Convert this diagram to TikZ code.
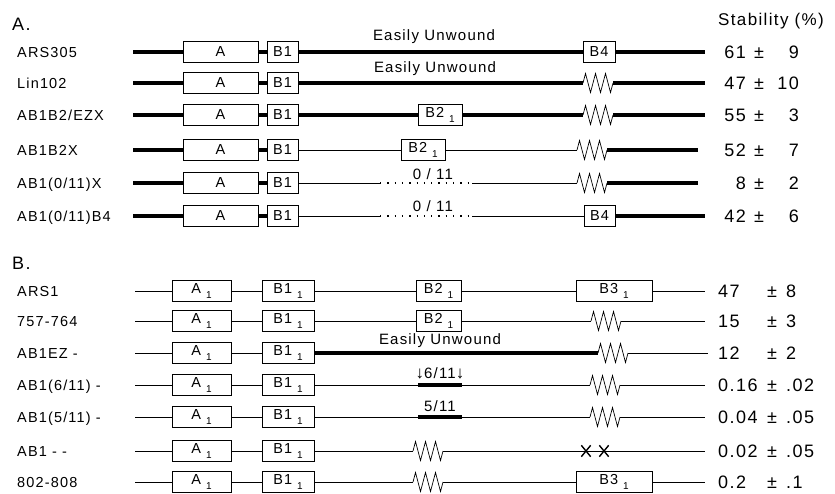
\documentclass[tikz,border=0pt]{standalone}
\usepackage{fontspec}
\setmainfont{Liberation Sans}[LetterSpace=8]
\usepackage{tikz}
\usetikzlibrary{positioning,decorations.pathmorphing,shapes.misc}
\newcommand{\lowidx}[1]{\hspace{5pt}\raisebox{-0.6ex}{\fontsize{10}{10}\selectfont #1}}

\begin{document}
\begin{tikzpicture}[x=1pt, y=-1pt,
		box/.style={draw, line width=0.8pt, minimum height=21pt, inner sep=0pt, font=\fontsize{14.5}{16}\selectfont},
		thk/.style={line width=4pt},
		thn/.style={line width=0.8pt},
		coil/.style={line width=0.7pt, decorate, decoration={zigzag, segment length=10pt, amplitude=9.5pt}},
		dotseg/.style={line width=1.3pt, dash pattern=on 1.3pt off 6pt},
		rowlbl/.style={anchor=west, inner sep=0pt, text height=10pt, text depth=0pt, font=\fontsize{14.5}{16}\selectfont},
		txt/.style={inner sep=0pt, font=\fontsize{15}{17}\selectfont},
		val/.style={inner sep=0pt, text height=12.5pt, text depth=0pt, font=\fontsize{18}{20}\selectfont},
		xmark/.style={draw, cross out, line width=1.4pt, minimum width=8pt, minimum height=10pt, inner sep=0pt},
		sechead/.style={anchor=west, inner sep=0pt, font=\fontsize{18}{20}\selectfont}]
		\useasboundingbox (0,0) rectangle (835,493);

		% part A
		\node[sechead] (secA) at (12,24) {A.};
		\node[val, text depth=4pt, font=\fontsize{17}{20}\selectfont] (stab) at (771,21) {Stability (\%)};

		\node[rowlbl] (l1) at (17,52) {ARS305};
		\node[box, minimum width=75pt] (a1) at (220.5,52) {A};
		\node[box, minimum width=31pt] (b1) at (282.5,52) {B1};
		\node[box, minimum width=32pt] (f1) at (599,52) {B4};
		\coordinate (s1) at (133,52);
		\coordinate (e1) at (705,52);
		\draw[thk] (s1) -- (a1) (a1) -- (b1) (b1) -- (f1) (f1) -- (e1);
		\node[txt] (eu1) at (434,37) {Easily Unwound};

		\node[rowlbl] (l2) at (17,83) {Lin102};
		\node[box, minimum width=75pt] (a2) at (220.5,83) {A};
		\node[box, minimum width=31pt] (b2) at (282.5,83) {B1};
		\coordinate (s2) at (133,83);
		\coordinate (z2a) at (583,83);
		\coordinate (z2b) at (613,83);
		\coordinate (e2) at (705,83);
		\draw[thk] (s2) -- (a2) (a2) -- (b2) (b2) -- (z2a) (z2b) -- (e2);
		\draw[coil] (z2a) -- (z2b);
		\node[txt] (eu2) at (435,69) {Easily Unwound};

		\node[rowlbl] (l3) at (17,115) {AB1B2/EZX};
		\node[box, minimum width=75pt] (a3) at (220.5,115) {A};
		\node[box, minimum width=31pt] (b3) at (282.5,115) {B1};
		\node[box, minimum width=44pt] (c3) at (440,115) {B2\lowidx{1}};
		\coordinate (s3) at (133,115);
		\coordinate (z3a) at (583,115);
		\coordinate (z3b) at (613,115);
		\coordinate (e3) at (705,115);
		\draw[thk] (s3) -- (a3) (a3) -- (b3) (b3) -- (c3) (c3) -- (z3a) (z3b) -- (e3);
		\draw[coil] (z3a) -- (z3b);

		\node[rowlbl] (l4) at (17,150) {AB1B2X};
		\node[box, minimum width=75pt] (a4) at (220.5,150) {A};
		\node[box, minimum width=31pt] (b4) at (282.5,150) {B1};
		\node[box, minimum width=44pt] (c4) at (423,150) {B2\lowidx{1}};
		\coordinate (s4) at (133,150);
		\coordinate (z4a) at (577,150);
		\coordinate (z4b) at (607,150);
		\coordinate (e4) at (698,150);
		\draw[thk] (s4) -- (a4) (a4) -- (b4) (z4b) -- (e4);
		\draw[thn] (b4) -- (c4) (c4) -- (z4a);
		\draw[coil] (z4a) -- (z4b);

		\node[rowlbl] (l5) at (17,183) {AB1(0/11)X};
		\node[box, minimum width=75pt] (a5) at (220.5,183) {A};
		\node[box, minimum width=31pt] (b5) at (282.5,183) {B1};
		\coordinate (s5) at (133,183);
		\coordinate (d5a) at (380,183);
		\coordinate (d5b) at (472,183);
		\coordinate (z5a) at (577,183);
		\coordinate (z5b) at (607,183);
		\coordinate (e5) at (698,183);
		\draw[thk] (s5) -- (a5) (a5) -- (b5) (z5b) -- (e5);
		\draw[thn] (b5) -- (d5a) (d5b) -- (z5a);
		\draw[dotseg] (d5a) -- (d5b);
		\draw[coil] (z5a) -- (z5b);
		\node[txt] (o5) at (433,174) {0 / 11};

		\node[rowlbl] (l6) at (17,216) {AB1(0/11)B4};
		\node[box, minimum width=75pt] (a6) at (220.5,216) {A};
		\node[box, minimum width=31pt] (b6) at (282.5,216) {B1};
		\node[box, minimum width=31pt] (f6) at (599.5,216) {B4};
		\coordinate (s6) at (133,216);
		\coordinate (d6a) at (380,216);
		\coordinate (d6b) at (472,216);
		\coordinate (e6) at (705,216);
		\draw[thk] (s6) -- (a6) (a6) -- (b6) (f6) -- (e6);
		\draw[thn] (b6) -- (d6a) (d6b) -- (f6);
		\draw[dotseg] (d6a) -- (d6b);
		\node[txt] (o6) at (433,206) {0 / 11};

		\foreach \vy/\vn/\ve in {52/61/9, 83/47/10, 115/55/3, 150/52/7, 183/8/2, 216/42/6} {
			\node[val, anchor=east] (vn\vy) at (746,\vy) {\vn};
			\node[val] (pm\vy) at (759,\vy) {±};
			\node[val, anchor=east] (ve\vy) at (799,\vy) {\ve};
		}

		% part B
		\node[sechead] (secB) at (12,263) {B.};

		\node[rowlbl] (l7) at (17,291) {ARS1};
		\node[box, minimum width=59pt] (a7) at (201.5,291) {A\lowidx{1}};
		\node[box, minimum width=52pt] (b7) at (288,291) {B1\lowidx{1}};
		\node[box, minimum width=45pt] (c7) at (438.5,291) {B2\lowidx{1}};
		\node[box, minimum width=76pt] (g7) at (614,291) {B3\lowidx{1}};
		\coordinate (s7) at (135,291);
		\coordinate (e7) at (705,291);
		\draw[thn] (s7) -- (a7) (a7) -- (b7) (b7) -- (c7) (c7) -- (g7) (g7) -- (e7);

		\node[rowlbl] (l8) at (17,321) {757-764};
		\node[box, minimum width=59pt] (a8) at (201.5,321) {A\lowidx{1}};
		\node[box, minimum width=52pt] (b8) at (288,321) {B1\lowidx{1}};
		\node[box, minimum width=45pt] (c8) at (438.5,321) {B2\lowidx{1}};
		\coordinate (s8) at (135,321);
		\coordinate (z8a) at (591,321);
		\coordinate (z8b) at (621,321);
		\coordinate (e8) at (705,321);
		\draw[thn] (s8) -- (a8) (a8) -- (b8) (b8) -- (c8) (c8) -- (z8a) (z8b) -- (e8);
		\draw[coil] (z8a) -- (z8b);

		\node[rowlbl] (l9) at (17,353) {AB1EZ -};
		\node[box, minimum width=59pt] (a9) at (201.5,353) {A\lowidx{1}};
		\node[box, minimum width=52pt] (b9) at (288,353) {B1\lowidx{1}};
		\coordinate (s9) at (135,353);
		\coordinate (z9a) at (598,353);
		\coordinate (z9b) at (628,353);
		\coordinate (e9) at (708,353);
		\draw[thn] (s9) -- (a9) (a9) -- (b9) (z9b) -- (e9);
		\draw[thk] (b9) -- (z9a);
		\draw[coil] (z9a) -- (z9b);
		\node[txt] (eu9) at (440,341) {Easily Unwound};

		\node[rowlbl] (l10) at (17,385) {AB1(6/11) -};
		\node[box, minimum width=59pt] (a10) at (201.5,385) {A\lowidx{1}};
		\node[box, minimum width=52pt] (b10) at (288,385) {B1\lowidx{1}};
		\coordinate (s10) at (135,385);
		\coordinate (k10a) at (418,385);
		\coordinate (k10b) at (462,385);
		\coordinate (z10a) at (590,385);
		\coordinate (z10b) at (620,385);
		\coordinate (e10) at (705,385);
		\draw[thn] (s10) -- (a10) (a10) -- (b10) (b10) -- (k10a) (k10b) -- (z10a) (z10b) -- (e10);
		\draw[thk] (k10a) -- (k10b);
		\draw[coil] (z10a) -- (z10b);
		\node[txt] (n10) at (440,373) {\fontsize{17}{17}\selectfont↓\fontsize{15}{17}\selectfont6/11\fontsize{17}{17}\selectfont↓};

		\node[rowlbl] (l11) at (17,417) {AB1(5/11) -};
		\node[box, minimum width=59pt] (a11) at (201.5,417) {A\lowidx{1}};
		\node[box, minimum width=52pt] (b11) at (288,417) {B1\lowidx{1}};
		\coordinate (s11) at (135,417);
		\coordinate (k11a) at (418,417);
		\coordinate (k11b) at (462,417);
		\coordinate (z11a) at (590,417);
		\coordinate (z11b) at (620,417);
		\coordinate (e11) at (705,417);
		\draw[thn] (s11) -- (a11) (a11) -- (b11) (b11) -- (k11a) (k11b) -- (z11a) (z11b) -- (e11);
		\draw[thk] (k11a) -- (k11b);
		\draw[coil] (z11a) -- (z11b);
		\node[txt] (n11) at (440,406) {5/11};

		\node[rowlbl] (l12) at (17,451) {AB1 - -};
		\node[box, minimum width=59pt] (a12) at (201.5,451) {A\lowidx{1}};
		\node[box, minimum width=52pt] (b12) at (288,451) {B1\lowidx{1}};
		\coordinate (s12) at (135,451);
		\coordinate (z12a) at (413,451);
		\coordinate (z12b) at (443,451);
		\coordinate (e12) at (705,451);
		\draw[thn] (s12) -- (a12) (a12) -- (b12) (b12) -- (z12a) (z12b) -- (e12);
		\draw[coil] (z12a) -- (z12b);
		\node[xmark] (x12a) at (586,451) {};
		\node[xmark] (x12b) at (604,451) {};

		\node[rowlbl] (l13) at (17,482) {802-808};
		\node[box, minimum width=59pt] (a13) at (201.5,482) {A\lowidx{1}};
		\node[box, minimum width=52pt] (b13) at (288,482) {B1\lowidx{1}};
		\node[box, minimum width=76pt] (g13) at (614,482) {B3\lowidx{1}};
		\coordinate (s13) at (135,482);
		\coordinate (z13a) at (413,482);
		\coordinate (z13b) at (443,482);
		\coordinate (e13) at (705,482);
		\draw[thn] (s13) -- (a13) (a13) -- (b13) (b13) -- (z13a) (z13b) -- (g13) (g13) -- (e13);
		\draw[coil] (z13a) -- (z13b);

		\foreach \vy/\vn/\ve in {291/47/8, 321/15/3, 353/12/2, 385/0.16/.02, 417/0.04/.05, 451/0.02/.05, 482/0.2/.1} {
			\node[val, anchor=west] (vn\vy) at (718,\vy) {\vn};
			\node[val, anchor=west] (pm\vy) at (767,\vy) {±};
			\node[val, anchor=west] (ve\vy) at (786,\vy) {\ve};
		}
	\end{tikzpicture}
\end{document}
